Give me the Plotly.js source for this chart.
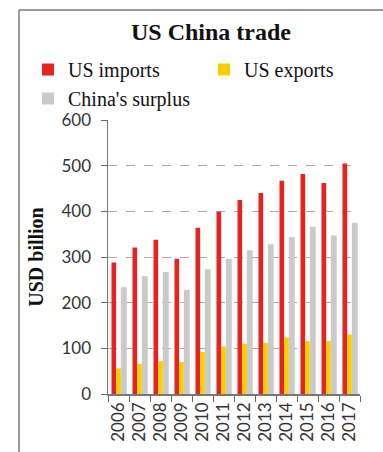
<!DOCTYPE html>
<html>
<head>
<meta charset="utf-8">
<script src="https://cdn.plot.ly/plotly-3.0.1.min.js"></script>
<style>
html,body{margin:0;padding:0;background:#fff;}
#chart{width:383px;height:452px;}
</style>
</head>
<body>
<div id="chart"></div>
<script>
const years = ["2006","2007","2008","2009","2010","2011","2012","2013","2014","2015","2016","2017"];
const usImports = [288, 321, 338, 296, 364, 399, 425, 440, 467, 482, 462, 505];
const usExports = [56, 66, 72, 70, 92, 104, 110, 112, 124, 116, 116, 130];
const chinaSurplus = [234, 258, 267, 228, 273, 296, 315, 328, 343, 366, 347, 375];
const yTicks = [0, 100, 200, 300, 400, 500, 600];

const serif = "Liberation Serif, Times New Roman, serif";
const sans = "Lato, Open Sans, sans-serif";

const traces = [
  {type:"bar", name:"US imports", x:years, y:usImports, marker:{color:"#e52421"}, offset:-0.334, width:0.223, hoverinfo:"y"},
  {type:"bar", name:"US exports", x:years, y:usExports, marker:{color:"#ffcc00"}, offset:-0.111, width:0.222, hoverinfo:"y"},
  {type:"bar", name:"China's surplus", x:years, y:chinaSurplus, marker:{color:"#cacaca"}, offset:0.111, width:0.28, hoverinfo:"y"}
];

const L = 108, R = 360, T = 120, B = 394;
const W = R - L, H = B - T;
const px = v => (v - L) / W;
const py = v => (B - v) / H;

const layout = {
  width:383, height:452,
  margin:{l:L, r:383-R, t:T, b:452-B, pad:0},
  paper_bgcolor:"#fff", plot_bgcolor:"#fff",
  barmode:"overlay",
  showlegend:true,
  title:{text:"<b>US China trade</b>", font:{family:serif, size:24, color:"#111"}, x:211/383, xanchor:"center", xref:"container", y:1-32/452, yanchor:"middle", yref:"container"},
  legend:{orientation:"h", x:px(28), xanchor:"left", y:py(50), yanchor:"top", font:{family:serif, size:20, color:"#111"}, entrywidth:131, traceorder:"normal", bgcolor:"rgba(0,0,0,0)", itemclick:false, tracegroupgap:0},
  xaxis:{type:"category", tickson:"boundaries", ticks:"outside", ticklen:6, tickcolor:"#666", showline:true, linecolor:"#777", linewidth:1.5, tickangle:-90, tickfont:{family:sans, size:17, color:"#333"}, showgrid:false, zeroline:false, fixedrange:true},
  yaxis:{range:[0,600], tickvals:yTicks, ticktext:yTicks.map(String), ticks:"outside", ticklen:6, tickcolor:"#666", showline:true, linecolor:"#777", linewidth:1.5, showgrid:true, gridcolor:"#aaa", griddash:"dash", gridwidth:1, zeroline:false, tickfont:{family:sans, size:17, color:"#333"}, ticklabelstandoff:6,
    title:{text:"<b>USD billion</b>", font:{family:serif, size:20, color:"#111"}, standoff:12}, fixedrange:true},
  shapes:[
    {type:"line", xref:"paper", yref:"paper", x0:px(19), x1:px(384), y0:py(10), y1:py(10), line:{color:"#777", width:1.5}},
    {type:"line", xref:"paper", yref:"paper", x0:px(19), x1:px(19), y0:py(10), y1:py(460), line:{color:"#777", width:1.5}}
  ]
};

Plotly.newPlot("chart", traces, layout, {displayModeBar:false, staticPlot:true});
</script>
</body>
</html>
